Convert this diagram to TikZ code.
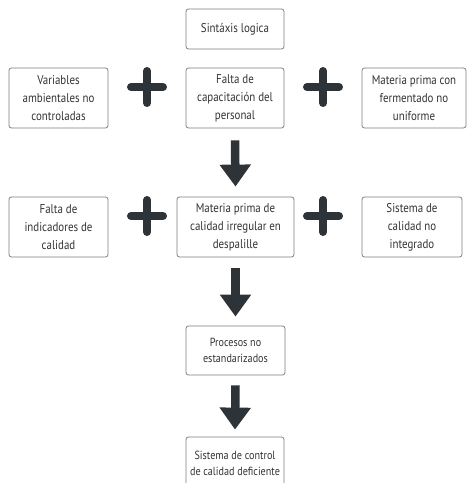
\documentclass[tikz,border=0pt]{standalone}
\usepackage{fontspec}
\setmainfont[FakeStretch=0.86]{PT Sans}
\usetikzlibrary{arrows.meta}
\definecolor{boxline}{HTML}{7E7E7E}
\definecolor{ink}{HTML}{2E3338}
\definecolor{txt}{HTML}{333333}
\begin{document}
\begin{tikzpicture}[x=1pt,y=-1pt,
  cause/.style={draw=boxline,line width=0.8pt,rounded corners=2.5pt,fill=white,
    align=center,inner sep=0pt,text=txt,font=\fontsize{12.7}{18}\selectfont},
  small/.style={cause,font=\fontsize{11.8}{16}\selectfont},
  plusbar/.style={ink,line width=8pt,line cap=round},
  bigarrow/.style={ink,line width=8.5pt,-{Triangle[width=30pt,length=22pt]}}]
\useasboundingbox (0,0) rectangle (475,483);
\begin{scope}
\clip (0,0) rectangle (475,483);
% top label
\node[cause,minimum width=98pt,minimum height=40pt] (top) at (235,29) {Sintáxis logica};
% first row of causes
\node[cause,minimum width=99pt,minimum height=60pt] (a1) at (58.5,98) {Variables\\ambientales no\\controladas};
\node[cause,minimum width=98pt,minimum height=60pt] (a2) at (235,98) {Falta de\\capacitación del\\personal};
\node[cause,minimum width=104pt,minimum height=60pt] (a3) at (414,98) {Materia prima con\\fermentado no\\uniforme};
% second row of causes
\node[cause,minimum width=99pt,minimum height=60pt] (b1) at (58.5,227) {Falta de\\indicadores de\\calidad};
\node[cause,minimum width=117pt,minimum height=60pt] (b2) at (235.5,227) {Materia prima de\\calidad irregular en\\despalille};
\node[cause,minimum width=100pt,minimum height=60pt] (b3) at (412,227) {Sistema de\\calidad no\\integrado};
% consequences
\node[small,minimum width=99pt,minimum height=49pt] (c1) at (235.5,350.5) {Procesos no\\estandarizados};
\node[small,minimum width=98pt,minimum height=52pt] (c2) at (235,463) {Sistema de control\\de calidad deficiente};
% plus signs between the causes
\foreach \c/\px/\py in {p1/147/87, p2/323/87, p3/147/216, p4/323/216}{
  \coordinate (\c) at (\px,\py);
  \draw[plusbar] ([xshift=-16pt]\c) -- ([xshift=16pt]\c);
  \draw[plusbar] ([yshift=-16pt]\c) -- ([yshift=16pt]\c);
}
% arrows down the chain
\draw[bigarrow] ([yshift=-12pt]a2.south) -- ([yshift=10pt]b2.north);
\draw[bigarrow] ([yshift=-11pt]b2.south) -- ([yshift=9pt]c1.north);
\draw[bigarrow] ([yshift=-10pt]c1.south) -- ([yshift=7pt]c2.north);
\end{scope}
\end{tikzpicture}
\end{document}
